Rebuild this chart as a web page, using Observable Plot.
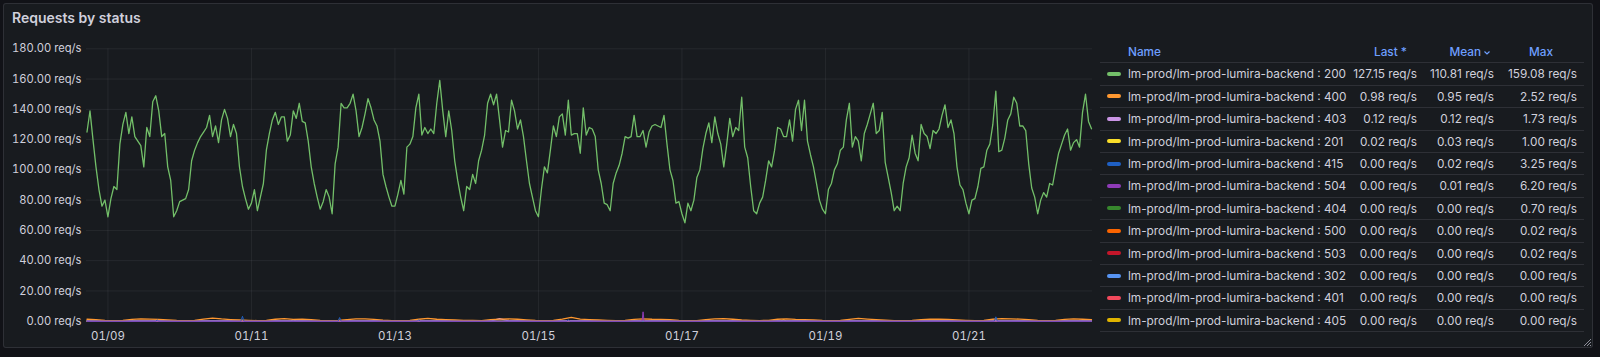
<!DOCTYPE html>
<html><head><meta charset="utf-8">
<script src="https://cdn.jsdelivr.net/npm/d3@7"></script>
<script src="https://cdn.jsdelivr.net/npm/@observablehq/plot@0.6"></script>
<style>
html,body{margin:0;padding:0;background:#111217;width:1600px;height:357px;overflow:hidden;font-family:Inter,"Open Sans",sans-serif;}
#panel{position:absolute;left:3px;top:3px;width:1588px;height:343px;background:#181b1f;border:1px solid rgba(204,204,220,0.12);border-radius:3px;}
#title{position:absolute;left:12px;top:11px;font-size:14px;line-height:14px;font-weight:600;color:#d0d0dc;white-space:nowrap;}
#chart{position:absolute;left:0;top:0;}
.lg{position:absolute;font-size:11.8px;color:#d0d0dc;white-space:nowrap;}
.sep{position:absolute;left:1100px;width:484px;height:1px;background:rgba(204,204,220,0.12);}
.hd{color:#6e9fff;font-weight:500;}
.sw{position:absolute;left:1107px;width:14px;height:4px;border-radius:2px;}
</style>
</head><body>
<div id="panel"></div>
<div id="title">Requests by status</div>
<div id="chart"></div>
<div id="legend"></div>
<svg style="position:absolute;left:1582px;top:337px" width="10" height="10"><path d="M9 2 L2 9 M9 5 L5 9 M9 8 L8 9" stroke="#8e8e9a" stroke-width="1"/></svg>
<script>
// ---------- data ----------
const startTime = "2024-01-08T17:00:00Z";   // first sample of hourly series
const xDomain = ["2024-01-08T16:50:00Z", "2024-01-22T17:20:00Z"];
const xTickDates = ["2024-01-09","2024-01-11","2024-01-13","2024-01-15","2024-01-17","2024-01-19","2024-01-21"];
const xTickLabels = ["01/09","01/11","01/13","01/15","01/17","01/19","01/21"];
const yTicks = [0,20,40,60,80,100,120,140,160,180];

// status 200, hourly samples
const s200 = [
125,139,120,102,87,76,80,69,81,89,
87,117,130,138,124,135,122,119,116,102,
128,122,145,149,139,122,124,102,93,69,
73,79,80,81,87,106,113,118,122,125,
128,136,122,129,118,133,140,134,122,130,
124,102,89,81,74,78,87,73,82,91,
113,124,133,138,130,135,
135,119,123,139,134,144,132,131,119,102,
91,82,74,79,87,82,71,104,115,144,
141,141,144,150,139,122,128,137,147,141,
133,129,119,97,89,82,76,76,84,93,
84,115,117,122,141,150,123,128,124,127,
124,144,159.08,139,122,139,126,106,93,82,
73,89,87,97,91,106,
113,123,144,150,143,150,133,115,126,125,
146,139,127,133,122,106,91,82,73,69,
87,102,98,113,129,122,135,137,123,146,
123,124,124,111,141,123,128,127,122,100,
91,78,77,73,91,98,103,111,122,121,
122,136,122,122,126,115,125,129,130,129,
128,136,117,100,93,78,
79,71,65,78,73,80,95,100,114,124,
131,118,135,124,117,102,117,134,122,128,
126,148,115,108,89,73,71,78,82,93,
106,102,113,128,127,122,122,133,119,140,
146,126,146,119,110,102,91,80,74,71,
87,91,100,104,113,115,133,144,115,122,
119,106,124,130,137,144,124,
126,138,105,95,85,73,76,73,91,102,
108,123,111,106,130,124,122,114,126,124,
127,136,143,128,133,124,102,90,87,78,
71,80,81,89,101,102,113,117,130,152,
112,113,121,133,137,148,144,129,129,126,
104,88,82,71,80,85,82,91,90,101,
111,117,123,127,113,118,
120,115,138,150,132,127.15
];

// status 400, 3-hourly samples
const s400 = [
1.3,1.0,0.6,0.4,0.5,1.2,1.6,1.4,
1.2,0.9,0.5,0.3,0.6,1.4,2.1,1.5,
1.1,0.8,0.6,0.4,0.5,1.3,1.7,1.2,
1.4,1.0,0.5,0.4,0.6,1.1,1.5,1.6,
1.2,0.7,0.4,0.3,0.5,1.3,1.8,1.3,
1.0,0.8,0.6,0.5,0.4,1.0,1.4,1.5,
1.3,0.9,0.5,0.3,0.6,1.4,2.52,1.4,
1.1,0.8,0.6,0.4,0.5,1.2,1.6,1.3,
1.2,1.0,0.5,0.3,0.4,1.1,1.5,1.7,
1.3,0.8,0.6,0.4,0.6,1.3,1.6,1.2,
1.1,0.9,0.5,0.3,0.5,1.2,1.9,1.4,
1.0,0.7,0.4,0.4,0.6,1.1,1.4,1.3,
1.2,0.9,0.6,0.3,0.5,1.3,1.7,1.5,
1.4,1.0,0.5,0.4,0.5,1.2,1.5,1.3,
0.98
];
// status 403, 3-hourly samples
const s403 = [
0.15,0.1,0.05,0.0,0.05,0.12,0.2,0.18,
0.14,0.08,0.04,0.02,0.06,0.15,0.22,0.17,
0.12,0.1,0.05,0.03,0.05,0.14,0.25,0.16,
0.15,0.09,0.04,0.02,0.05,0.13,0.2,0.19,
0.13,0.08,0.05,0.02,0.06,0.16,0.21,0.15,
0.12,0.1,0.05,0.03,0.04,0.12,1.73,0.18,
0.14,0.09,0.04,0.02,0.05,0.15,0.22,0.16,
0.13,0.1,0.05,0.02,0.06,0.13,0.2,0.17,
0.15,0.08,0.04,0.03,0.05,0.14,0.23,0.18,
0.12,0.09,0.05,0.02,0.04,0.15,0.21,0.16,
0.14,0.1,0.04,0.02,0.06,0.13,0.22,0.17,
0.13,0.08,0.05,0.03,0.05,0.14,0.2,0.15,
0.15,0.09,0.04,0.02,0.06,0.16,0.23,0.18,
0.14,0.1,0.05,0.02,0.05,0.13,0.21,0.16,
0.12
];
// sparse series: explicit times and values
const s201Times = ["2024-01-08T17:00Z","2024-01-11T13:00Z","2024-01-11T14:00Z","2024-01-11T15:00Z","2024-01-18T09:00Z","2024-01-18T10:00Z","2024-01-18T11:00Z","2024-01-22T17:00Z"];
const s201Vals = [0,0,1.0,0,0,1.0,0,0.02];
const s415Times = ["2024-01-08T17:00Z","2024-01-09T16:00Z","2024-01-09T16:30Z","2024-01-09T17:00Z","2024-01-10T20:30Z","2024-01-10T21:00Z","2024-01-10T21:30Z","2024-01-12T05:00Z","2024-01-12T05:30Z","2024-01-12T06:00Z","2024-01-13T07:30Z","2024-01-13T08:00Z","2024-01-13T08:30Z","2024-01-15T09:30Z","2024-01-15T10:00Z","2024-01-15T10:30Z","2024-01-21T08:30Z","2024-01-21T09:00Z","2024-01-21T09:30Z","2024-01-22T17:00Z"];
const s415Vals = [0,0,0.8,0,0,3.25,0,0,2.4,0,0,1.0,0,0,1.0,0,0,2.9,0,0];
const s504Times = ["2024-01-08T17:00Z","2024-01-16T10:40Z","2024-01-16T11:00Z","2024-01-16T11:20Z","2024-01-22T17:00Z"];
const s504Vals = [0,0,6.2,0,0];
const s404Times = ["2024-01-08T17:00Z","2024-01-14T11:30Z","2024-01-14T12:00Z","2024-01-14T12:30Z","2024-01-22T17:00Z"];
const s404Vals = [0,0,0.7,0,0];
const flatTimes = ["2024-01-08T17:00Z","2024-01-22T17:00Z"];
const flatVals = [0,0];

// legend table
const legendCodes = ["200","400","403","201","415","504","404","500","503","302","401","405"];
const legendColors = ["#73bf69","#ff9830","#ca95e5","#fade2a","#1f60c4","#8f3bb8","#37872d","#fa6400","#c4162a","#5794f2","#f2495c","#e0b400"];
const legendLast = ["127.15","0.98","0.12","0.02","0.00","0.00","0.00","0.00","0.00","0.00","0.00","0.00"];
const legendMean = ["110.81","0.95","0.12","0.03","0.02","0.01","0.00","0.00","0.00","0.00","0.00","0.00"];
const legendMax = ["159.08","2.52","1.73","1.00","3.25","6.20","0.70","0.02","0.02","0.00","0.00","0.00"];
const seriesPrefix = "lm-prod/lm-prod-lumira-backend : ";

// ---------- build ----------
const colorOf = c => legendColors[legendCodes.indexOf(c)];
const t0 = new Date(startTime).getTime();
const H = 3600e3;
const hourly = s200.map((v, k) => ({t: new Date(t0 + k * H), v}));
const tri = arr => arr.map((v, k) => ({t: new Date(t0 + 3 * k * H), v}));
const sparse = (ts, vs) => ts.map((t, i) => ({t: new Date(t), v: vs[i]}));
const xTicks = xTickDates.map(d => new Date(d + "T00:00:00Z"));
const labelMap = new Map(xTicks.map((d, i) => [+d, xTickLabels[i]]));
const line = (data, code, w = 1) => Plot.line(data, {x: "t", y: "v", stroke: colorOf(code), strokeWidth: w});

const chart = Plot.plot({
  width: 1092, height: 357,
  marginLeft: 86, marginRight: 0, marginTop: 48.3, marginBottom: 36.3,
  style: {background: "transparent", color: "#d0d0dc", fontSize: "11px", fontFamily: "Inter, sans-serif", overflow: "visible"},
  x: {type: "utc", domain: xDomain.map(d => new Date(d)), label: null},
  y: {domain: [0, 180], label: null},
  marks: [
    Plot.gridY(yTicks, {stroke: "#ccccdc", strokeOpacity: 0.08}),
    Plot.gridX(xTicks, {stroke: "#ccccdc", strokeOpacity: 0.08}),
    Plot.axisY(yTicks, {tickSize: 0, tickPadding: 5, tickFormat: d => d.toFixed(2) + " req/s", fontSize: 11.2, fill: "#d0d0dc"}),
    Plot.axisX(xTicks, {tickSize: 0, tickPadding: 11, tickFormat: d => labelMap.get(+d), fontSize: 11.5, fill: "#d0d0dc"}),
    line(hourly, "200", 1.3),
    line(sparse(flatTimes, flatVals), "405"),
    line(sparse(flatTimes, flatVals), "401"),
    line(sparse(flatTimes, flatVals), "302"),
    line(sparse(flatTimes, flatVals), "503"),
    line(sparse(flatTimes, flatVals), "500"),
    line(sparse(s404Times, s404Vals), "404"),
    line(sparse(s201Times, s201Vals), "201"),
    line(tri(s403), "403", 1.3),
    line(tri(s400), "400", 1.3),
    line(sparse(s415Times, s415Vals), "415"),
    line(sparse(s504Times, s504Vals), "504")
  ]
});
document.getElementById("chart").appendChild(chart);

// legend
const lg = d3.select("#legend");
const sepTop = 62.3, rowH = 22.4;
lg.append("div").attr("class", "lg hd").style("left", "1128px").style("top", "41px").style("line-height", "22px").text("Name");
lg.append("div").attr("class", "lg hd").style("right", (1600 - 1407) + "px").style("top", "41px").style("line-height", "22px").text("Last *");
const meanH = lg.append("div").attr("class", "lg hd").style("right", (1600 - 1491) + "px").style("top", "41px").style("line-height", "22px");
meanH.append("span").text("Mean");
meanH.append("svg").attr("width", 8).attr("height", 8).style("margin-left", "2px").style("vertical-align", "middle")
  .append("path").attr("d", "M1.5 2.5 L4 5 L6.5 2.5").attr("fill", "none").attr("stroke", "#6e9fff").attr("stroke-width", 1.2);
lg.append("div").attr("class", "lg hd").style("right", (1600 - 1553) + "px").style("top", "41px").style("line-height", "22px").text("Max");
for (let i = 0; i <= legendCodes.length; i++) {
  lg.append("div").attr("class", "sep").style("top", (sepTop + i * rowH) + "px");
}
legendCodes.forEach((c, i) => {
  const top = sepTop + i * rowH + 1;
  lg.append("div").attr("class", "sw").style("top", (top + rowH / 2 - 2.5) + "px").style("background", legendColors[i]);
  lg.append("div").attr("class", "lg").style("left", "1128px").style("top", top + "px").style("line-height", rowH + "px").text(seriesPrefix + c);
  lg.append("div").attr("class", "lg").style("right", (1600 - 1417) + "px").style("top", top + "px").style("line-height", rowH + "px").text(legendLast[i] + " req/s");
  lg.append("div").attr("class", "lg").style("right", (1600 - 1494) + "px").style("top", top + "px").style("line-height", rowH + "px").text(legendMean[i] + " req/s");
  lg.append("div").attr("class", "lg").style("right", (1600 - 1577) + "px").style("top", top + "px").style("line-height", rowH + "px").text(legendMax[i] + " req/s");
});
</script>
</body></html>
